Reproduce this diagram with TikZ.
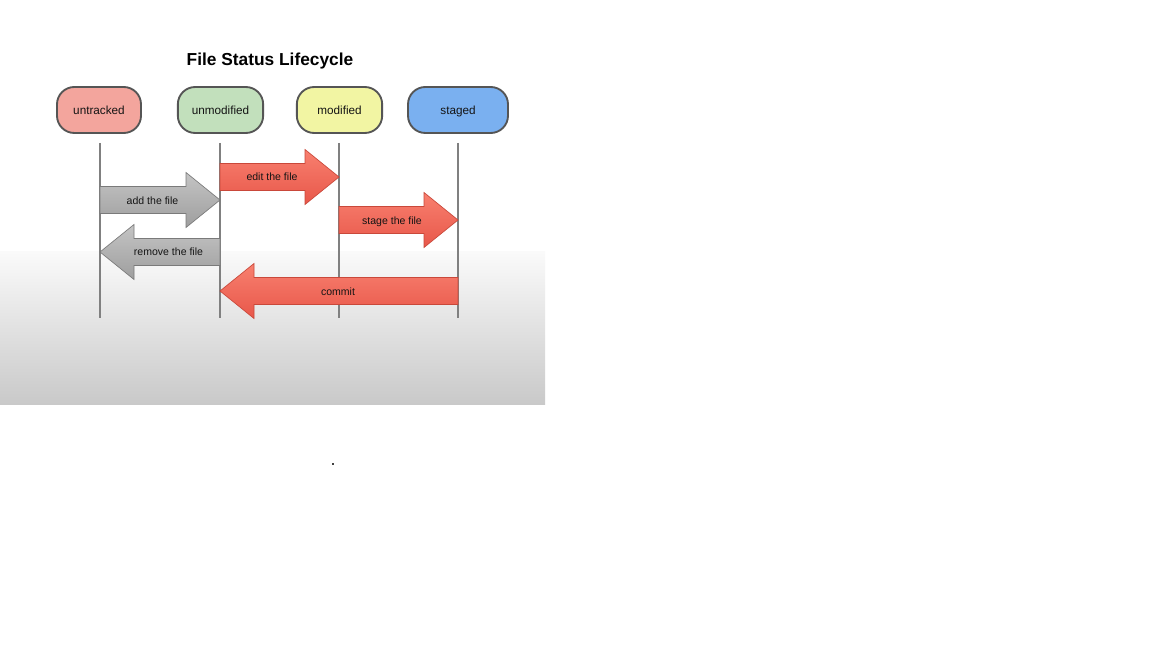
\documentclass[tikz,border=0pt]{standalone}
\usepackage{fontspec}
\setmainfont{Liberation Sans}
\usetikzlibrary{calc}
\definecolor{cUntr}{HTML}{F3A59D}
\definecolor{cUnmod}{HTML}{C2E0BC}
\definecolor{cMod}{HTML}{F2F5A3}
\definecolor{cStaged}{HTML}{7AB0F0}
\definecolor{cBorder}{HTML}{555555}
\definecolor{cLife}{HTML}{808080}
\definecolor{redTop}{HTML}{F8806F}
\definecolor{redBot}{HTML}{E8574A}
\definecolor{redLine}{HTML}{C9483A}
\definecolor{grayTop}{HTML}{C4C4C4}
\definecolor{grayBot}{HTML}{9E9E9E}
\definecolor{grayLine}{HTML}{7A7A7A}
\definecolor{txt}{HTML}{141414}
\newcommand{\rightbig}[4]{% x1, x2, yc, style
  \draw[#4] (#1,#3-13.5) -- (#2-34,#3-13.5) -- (#2-34,#3-27.5) -- (#2,#3)
    -- (#2-34,#3+27.5) -- (#2-34,#3+13.5) -- (#1,#3+13.5) -- cycle;}
\newcommand{\leftbig}[4]{% x1 (tail), x2 (tip), yc, style
  \draw[#4] (#1,#3-13.5) -- (#2+34,#3-13.5) -- (#2+34,#3-27.5) -- (#2,#3)
    -- (#2+34,#3+27.5) -- (#2+34,#3+13.5) -- (#1,#3+13.5) -- cycle;}
\tikzset{
  state/.style={draw=cBorder, line width=1.4pt, rounded corners=13pt,
    minimum height=34.5pt, text=txt, inner sep=0pt,
    font=\fontsize{8.8}{10}\selectfont},
  life/.style={draw=cLife, line width=1.2pt},
  redarrow/.style={draw=redLine, line width=0.5pt, top color=redTop, bottom color=redBot},
  grayarrow/.style={draw=grayLine, line width=0.5pt, top color=grayTop, bottom color=grayBot},
  lbl/.style={anchor=base, text=txt, inner sep=0pt, font=\fontsize{7.9}{9}\selectfont},
}
\begin{document}
\begin{tikzpicture}[x=0.75pt, y=-0.75pt]
\useasboundingbox (0,0) rectangle (1152,648);
\fill[white] (0,0) rectangle (1152,648);
\shade[top color={rgb,255:red,250;green,250;blue,250}, bottom color={rgb,255:red,201;green,201;blue,201}] (0,252) rectangle (545,404);
\fill[black!75] (331.5,462.5) rectangle (333.5,464.5);

\node[anchor=base, font=\bfseries\fontsize{13}{15}\selectfont, inner sep=0pt] (title) at (270,66) {File Status Lifecycle};

\node[state, fill=cUntr, minimum width=63pt] (untracked) at (99,110) {};
\node[state, fill=cUnmod, minimum width=64pt] (unmodified) at (220.5,110) {};
\node[state, fill=cMod, minimum width=64pt] (modified) at (339.5,110) {};
\node[state, fill=cStaged, minimum width=75pt] (staged) at (458,110) {};
\node[lbl, font=\fontsize{8.8}{10}\selectfont] (tUntr) at (99,114.3) {untracked};
\node[lbl, font=\fontsize{8.8}{10}\selectfont] (tUnmod) at (220.5,114.3) {unmodified};
\node[lbl, font=\fontsize{8.8}{10}\selectfont] (tMod) at (339.5,114.3) {modified};
\node[lbl, font=\fontsize{8.8}{10}\selectfont] (tStaged) at (458,114.3) {staged};

\coordinate (e1) at (100,318);
\coordinate (e2) at (220,318);
\coordinate (e3) at (339,318);
\coordinate (e4) at (458,318);
\draw[life] (e1 |- 0,143) -- (e1);
\draw[life] (e2 |- 0,143) -- (e2);
\draw[life] (e3 |- 0,143) -- (e3);
\draw[life] (e4 |- 0,143) -- (e4);

\rightbig{100}{220}{200}{grayarrow}
\rightbig{220}{339}{177}{redarrow}
\rightbig{339}{458}{220}{redarrow}
\leftbig{220}{100}{252}{grayarrow}
\leftbig{458}{220}{291}{redarrow}

\node[lbl] (lAdd) at (152.5,204.3) {add the file};
\node[lbl] (lEdit) at (272,181) {edit the file};
\node[lbl] (lStage) at (392,224.3) {stage the file};
\node[lbl] (lRemove) at (168.5,256) {remove the file};
\node[lbl] (lCommit) at (338,296) {commit};
\end{tikzpicture}
\end{document}
